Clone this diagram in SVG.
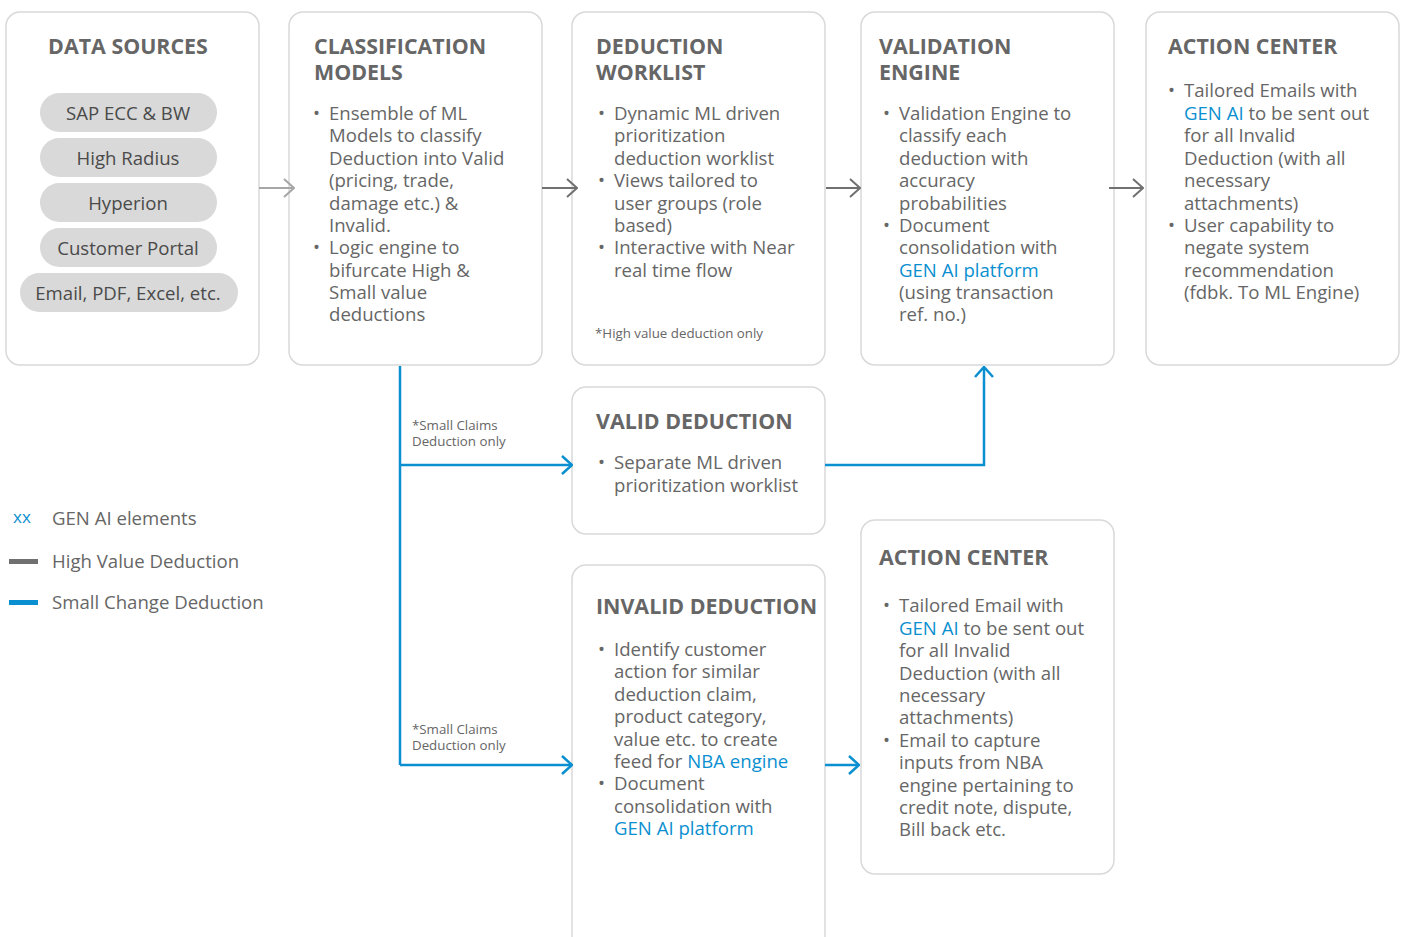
<svg xmlns="http://www.w3.org/2000/svg" width="1402" height="937" viewBox="0 0 1402 937">
  <defs>
    <style>
      .box { fill: #ffffff; stroke: #d9d9d9; stroke-width: 1.5; }
      .pill { fill: #d9d9d9; }
      .pilltxt { font-family: "Open Sans", "Liberation Sans", sans-serif; font-size: 18.6px; fill: #4a4a4a; text-anchor: middle; }
      .head { font-family: "Open Sans", "Liberation Sans", sans-serif; font-size: 21.4px; font-weight: bold; fill: #666666; }
      .body { font-family: "Open Sans", "Liberation Sans", sans-serif; font-size: 18.6px; fill: #666666; }
      .note { font-family: "Open Sans", "Liberation Sans", sans-serif; font-size: 13.3px; fill: #666666; }
      .ai { fill: #0a8fd0; }
      .gray1 { stroke: #a6a6a6; stroke-width: 2; fill: none; }
      .gray2 { stroke: #707070; stroke-width: 2; fill: none; }
      .blue { stroke: #0a8fd0; stroke-width: 2.5; fill: none; }
    </style>
    <marker id="arrGrayLight" viewBox="0 0 12 20" refX="11" refY="10" markerWidth="12" markerHeight="20" markerUnits="userSpaceOnUse" orient="auto">
      <path d="M1,1 L11,10 L1,19" fill="none" stroke="#a6a6a6" stroke-width="2"/>
    </marker>
    <marker id="arrGray" viewBox="0 0 12 20" refX="11" refY="10" markerWidth="12" markerHeight="20" markerUnits="userSpaceOnUse" orient="auto">
      <path d="M1,1 L11,10 L1,19" fill="none" stroke="#707070" stroke-width="2"/>
    </marker>
    <marker id="arrBlue" viewBox="0 0 12 20" refX="11" refY="10" markerWidth="12" markerHeight="20" markerUnits="userSpaceOnUse" orient="auto">
      <path d="M1,1 L11,10 L1,19" fill="none" stroke="#0a8fd0" stroke-width="2.5"/>
    </marker>
  </defs>

  <rect width="1402" height="937" fill="#ffffff"/>

  <!-- Data sources -->
  <g id="data-sources">
    <rect class="box" x="6" y="12" width="253" height="353" rx="14"/>
    <text class="head" x="128" y="54" text-anchor="middle">DATA SOURCES</text>
    <rect class="pill" x="40" y="93" width="177" height="39" rx="19.5"/>
    <text class="pilltxt" x="128" y="120">SAP ECC &amp; BW</text>
    <rect class="pill" x="40" y="138" width="177" height="39" rx="19.5"/>
    <text class="pilltxt" x="128" y="165">High Radius</text>
    <rect class="pill" x="40" y="183" width="177" height="39" rx="19.5"/>
    <text class="pilltxt" x="128" y="210">Hyperion</text>
    <rect class="pill" x="40" y="228" width="177" height="39" rx="19.5"/>
    <text class="pilltxt" x="128" y="255">Customer Portal</text>
    <rect class="pill" x="20" y="273" width="218" height="39" rx="19.5"/>
    <text class="pilltxt" x="128" y="300">Email, PDF, Excel, etc.</text>
  </g>

  <!-- Classification models -->
  <g id="classification-models">
    <rect class="box" x="289" y="12" width="253" height="353" rx="14"/>
    <text class="head" x="314" y="54">CLASSIFICATION</text>
    <text class="head" x="314" y="80">MODELS</text>
    <text class="body">
      <tspan x="313" y="120">•</tspan>
      <tspan x="313" y="254">•</tspan>
    </text>
    <text class="body">
      <tspan x="329" y="120">Ensemble of ML</tspan>
      <tspan x="329" y="142">Models to classify</tspan>
      <tspan x="329" y="165">Deduction into Valid</tspan>
      <tspan x="329" y="187">(pricing, trade,</tspan>
      <tspan x="329" y="210">damage etc.) &amp;</tspan>
      <tspan x="329" y="232">Invalid.</tspan>
      <tspan x="329" y="254">Logic engine to</tspan>
      <tspan x="329" y="277">bifurcate High &amp;</tspan>
      <tspan x="329" y="299">Small value</tspan>
      <tspan x="329" y="321">deductions</tspan>
    </text>
  </g>

  <!-- Deduction worklist -->
  <g id="deduction-worklist">
    <rect class="box" x="572" y="12" width="253" height="353" rx="14"/>
    <text class="head" x="596" y="54">DEDUCTION</text>
    <text class="head" x="596" y="80">WORKLIST</text>
    <text class="body">
      <tspan x="598" y="120">•</tspan>
      <tspan x="598" y="187">•</tspan>
      <tspan x="598" y="254">•</tspan>
    </text>
    <text class="body">
      <tspan x="614" y="120">Dynamic ML driven</tspan>
      <tspan x="614" y="142">prioritization</tspan>
      <tspan x="614" y="165">deduction worklist</tspan>
      <tspan x="614" y="187">Views tailored to</tspan>
      <tspan x="614" y="210">user groups (role</tspan>
      <tspan x="614" y="232">based)</tspan>
      <tspan x="614" y="254">Interactive with Near</tspan>
      <tspan x="614" y="277">real time flow</tspan>
    </text>
    <text class="note" x="595" y="338">*High value deduction only</text>
  </g>

  <!-- Validation engine -->
  <g id="validation-engine">
    <rect class="box" x="861" y="12" width="253" height="353" rx="14"/>
    <text class="head" x="879" y="54">VALIDATION</text>
    <text class="head" x="879" y="80">ENGINE</text>
    <text class="body">
      <tspan x="883" y="120">•</tspan>
      <tspan x="883" y="232">•</tspan>
    </text>
    <text class="body">
      <tspan x="899" y="120">Validation Engine to</tspan>
      <tspan x="899" y="142">classify each</tspan>
      <tspan x="899" y="165">deduction with</tspan>
      <tspan x="899" y="187">accuracy</tspan>
      <tspan x="899" y="210">probabilities</tspan>
      <tspan x="899" y="232">Document</tspan>
      <tspan x="899" y="254">consolidation with</tspan>
      <tspan x="899" y="277" class="ai">GEN AI platform</tspan>
      <tspan x="899" y="299">(using transaction</tspan>
      <tspan x="899" y="321">ref. no.)</tspan>
    </text>
  </g>

  <!-- Action center (top) -->
  <g id="action-center-top">
    <rect class="box" x="1146" y="12" width="253" height="353" rx="14"/>
    <text class="head" x="1168" y="54">ACTION CENTER</text>
    <text class="body">
      <tspan x="1168" y="97">•</tspan>
      <tspan x="1168" y="232">•</tspan>
    </text>
    <text class="body">
      <tspan x="1184" y="97">Tailored Emails with</tspan>
      <tspan x="1184" y="120"><tspan class="ai">GEN AI</tspan> to be sent out</tspan>
      <tspan x="1184" y="142">for all Invalid</tspan>
      <tspan x="1184" y="165">Deduction (with all</tspan>
      <tspan x="1184" y="187">necessary</tspan>
      <tspan x="1184" y="210">attachments)</tspan>
      <tspan x="1184" y="232">User capability to</tspan>
      <tspan x="1184" y="254">negate system</tspan>
      <tspan x="1184" y="277">recommendation</tspan>
      <tspan x="1184" y="299">(fdbk. To ML Engine)</tspan>
    </text>
  </g>

  <!-- Valid deduction -->
  <g id="valid-deduction">
    <rect class="box" x="572" y="387" width="253" height="147" rx="14"/>
    <text class="head" x="596" y="429">VALID DEDUCTION</text>
    <text class="body"><tspan x="598" y="469">•</tspan></text>
    <text class="body">
      <tspan x="614" y="469">Separate ML driven</tspan>
      <tspan x="614" y="492">prioritization worklist</tspan>
    </text>
  </g>

  <!-- Invalid deduction -->
  <g id="invalid-deduction">
    <rect class="box" x="572" y="565" width="253" height="400" rx="14"/>
    <text class="head" x="596" y="614">INVALID DEDUCTION</text>
    <text class="body">
      <tspan x="598" y="656">•</tspan>
      <tspan x="598" y="790">•</tspan>
    </text>
    <text class="body">
      <tspan x="614" y="656">Identify customer</tspan>
      <tspan x="614" y="678">action for similar</tspan>
      <tspan x="614" y="701">deduction claim,</tspan>
      <tspan x="614" y="723">product category,</tspan>
      <tspan x="614" y="746">value etc. to create</tspan>
      <tspan x="614" y="768">feed for <tspan class="ai">NBA engine</tspan></tspan>
      <tspan x="614" y="790">Document</tspan>
      <tspan x="614" y="813">consolidation with</tspan>
      <tspan x="614" y="835" class="ai">GEN AI platform</tspan>
    </text>
  </g>

  <!-- Action center (bottom) -->
  <g id="action-center-bottom">
    <rect class="box" x="861" y="520" width="253" height="354" rx="14"/>
    <text class="head" x="879" y="565">ACTION CENTER</text>
    <text class="body">
      <tspan x="883" y="612">•</tspan>
      <tspan x="883" y="747">•</tspan>
    </text>
    <text class="body">
      <tspan x="899" y="612">Tailored Email with</tspan>
      <tspan x="899" y="635"><tspan class="ai">GEN AI</tspan> to be sent out</tspan>
      <tspan x="899" y="657">for all Invalid</tspan>
      <tspan x="899" y="680">Deduction (with all</tspan>
      <tspan x="899" y="702">necessary</tspan>
      <tspan x="899" y="724">attachments)</tspan>
      <tspan x="899" y="747">Email to capture</tspan>
      <tspan x="899" y="769">inputs from NBA</tspan>
      <tspan x="899" y="792">engine pertaining to</tspan>
      <tspan x="899" y="814">credit note, dispute,</tspan>
      <tspan x="899" y="836">Bill back etc.</tspan>
    </text>
  </g>

  <!-- Connectors -->
  <g id="connectors">
    <line class="gray1" x1="259" y1="188" x2="294" y2="188" marker-end="url(#arrGrayLight)"/>
    <line class="gray2" x1="542" y1="188" x2="577" y2="188" marker-end="url(#arrGray)"/>
    <line class="gray2" x1="826" y1="188" x2="860" y2="188" marker-end="url(#arrGray)"/>
    <line class="gray2" x1="1109" y1="188" x2="1143" y2="188" marker-end="url(#arrGray)"/>

    <path class="blue" d="M400,366 L400,765"/>
    <path class="blue" d="M400,465 L572,465" marker-end="url(#arrBlue)"/>
    <path class="blue" d="M400,765 L572,765" marker-end="url(#arrBlue)"/>
    <path class="blue" d="M825,465 L984,465 L984,367" marker-end="url(#arrBlue)"/>
    <path class="blue" d="M825,765 L859,765" marker-end="url(#arrBlue)"/>

    <text class="note">
      <tspan x="412" y="430">*Small Claims</tspan>
      <tspan x="412" y="446">Deduction only</tspan>
    </text>
    <text class="note">
      <tspan x="412" y="734">*Small Claims</tspan>
      <tspan x="412" y="750">Deduction only</tspan>
    </text>
  </g>

  <!-- Legend -->
  <g id="legend">
    <text class="body ai" x="13" y="523" style="font-size:17px">xx</text>
    <text class="body" x="52" y="525">GEN AI elements</text>
    <rect x="9" y="559" width="29" height="5" fill="#707070"/>
    <text class="body" x="52" y="568">High Value Deduction</text>
    <rect x="9" y="600" width="29" height="5" fill="#0a8fd0"/>
    <text class="body" x="52" y="609">Small Change Deduction</text>
  </g>
</svg>
